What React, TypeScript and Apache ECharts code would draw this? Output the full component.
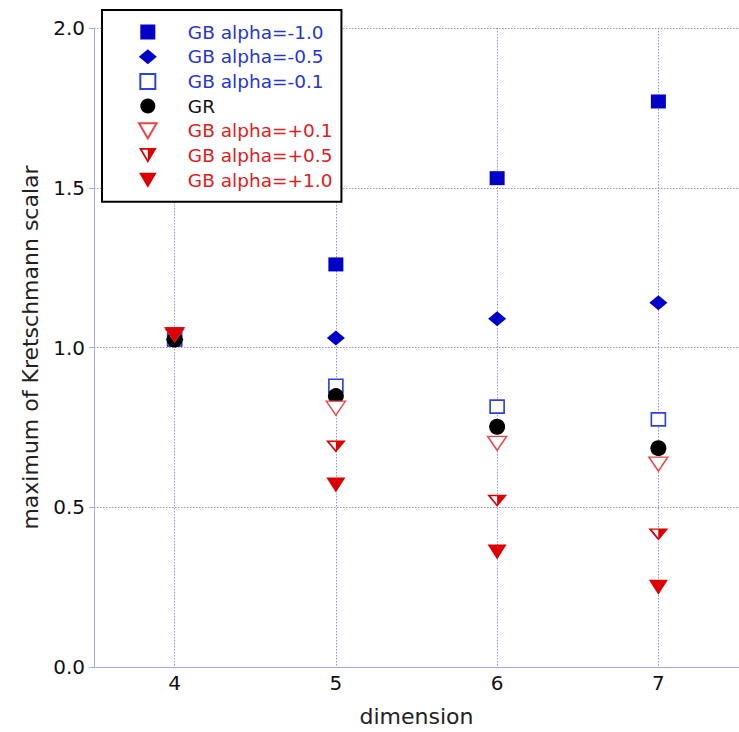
import React, { useEffect, useRef } from "react";
import * as echarts from "echarts";

const dimensions = [4, 5, 6, 7];

const gbMinus10 = [1.025, 1.26, 1.53, 1.77];
const gbMinus05 = [1.025, 1.03, 1.09, 1.14];
const gbMinus01 = [1.025, 0.88, 0.815, 0.775];
const gr = [1.025, 0.848, 0.752, 0.685];
const gbPlus01 = [1.04, 0.81, 0.70, 0.635];
const gbPlus05 = [1.04, 0.69, 0.52, 0.415];
const gbPlus10 = [1.04, 0.57, 0.36, 0.25];

const seriesNames = [
  "GB alpha=-1.0",
  "GB alpha=-0.5",
  "GB alpha=-0.1",
  "GR",
  "GB alpha=+0.1",
  "GB alpha=+0.5",
  "GB alpha=+1.0",
];

const FONT = "DejaVu Sans";
const BLUE = "#0000c8";
const BLUE_LIGHT = "#3040e0";
const BLUE_TEXT = "#2536d6";
const RED = "#dd0000";
const RED_LIGHT = "#ee4444";
const RED_TEXT = "#e02020";
const AXIS = "#a8a8f0";
const GRID = "#8f8ff0";

const SQUARE = "path://M0 0H10V10H0Z";
const DIAMOND = "path://M9 0L18 7.5L9 15L0 7.5Z";
const TRI_DOWN = "path://M0 0H20L10 17Z";
const HALF_TRI = "path://M0 0L20 0L10 17Z M3.5 2L10 13.3L16.5 2Z M10 0L20 0L10 17Z";

function pairs(vals: number[]) {
  return dimensions.map((d, i) => [d, vals[i]]);
}

export default function App() {
  const ref = useRef<HTMLDivElement>(null);
  useEffect(() => {
    if (!ref.current) return;
    const chart = echarts.init(ref.current, undefined, { renderer: "svg" });
    const mk = (
      name: string,
      vals: number[],
      symbol: string,
      size: number | number[],
      itemStyle: any
    ) => ({
      name,
      type: "scatter",
      data: pairs(vals),
      symbol,
      symbolSize: size,
      itemStyle: { opacity: 1, ...itemStyle },
      emphasis: { disabled: true },
    });
    chart.setOption({
      animation: false,
      grid: { left: 94, top: 28, right: -4, bottom: 64 },
      xAxis: {
        type: "value",
        min: 3.5,
        max: 7.5,
        name: "dimension",
        nameLocation: "middle",
        nameGap: 38,
        nameTextStyle: { fontFamily: FONT, fontSize: 22, color: "#222" },
        axisLine: { show: true, onZero: false, lineStyle: { color: AXIS, width: 1 } },
        axisTick: { show: false, customValues: dimensions },
        axisLabel: {
          customValues: dimensions,
          margin: 6,
          fontFamily: FONT,
          fontSize: 20,
          color: "#111",
        },
        splitLine: { show: true, lineStyle: { color: GRID, width: 1, type: [1.5, 1.5] } },
      },
      yAxis: {
        type: "value",
        min: 0,
        max: 2,
        interval: 0.5,
        name: "maximum of Kretschmann scalar",
        nameLocation: "middle",
        nameGap: 53,
        nameTextStyle: { fontFamily: FONT, fontSize: 22, color: "#222" },
        axisLine: { show: true, lineStyle: { color: AXIS, width: 1 } },
        axisTick: { show: true, length: 5, lineStyle: { color: AXIS } },
        axisLabel: {
          margin: 9,
          fontFamily: FONT,
          fontSize: 20,
          color: "#111",
          formatter: (v: number) => v.toFixed(1),
        },
        splitLine: { show: true, lineStyle: { color: GRID, width: 1, type: [1.5, 1.5] } },
      },
      legend: {
        orient: "vertical",
        left: 102,
        top: 10,
        padding: [12.5, 9, 12, 36],
        itemWidth: 70,
        itemHeight: 15,
        itemGap: 5.7,
        backgroundColor: "#fff",
        borderColor: "#000",
        borderWidth: 2,
        borderRadius: 0,
        selectedMode: false,
        symbolKeepAspect: true,
        textStyle: { fontFamily: FONT, fontSize: 18.5, lineHeight: 19 },
        data: seriesNames.map((n, i) => ({
          name: n,
          textStyle: { color: i < 3 ? BLUE_TEXT : i === 3 ? "#111" : RED_TEXT },
        })),
      },
      series: [
        mk(seriesNames[0], gbMinus10, SQUARE, [15, 14], { color: BLUE }),
        mk(seriesNames[1], gbMinus05, DIAMOND, [18, 15], { color: BLUE }),
        mk(seriesNames[2], gbMinus01, SQUARE, [14, 13], {
          color: "#ffffff",
          borderColor: BLUE_LIGHT,
          borderWidth: 1.6,
        }),
        mk(seriesNames[3], gr, "circle", 16, { color: "#000" }),
        mk(seriesNames[4], gbPlus01, TRI_DOWN, [19, 14], {
          color: "#ffffff",
          borderColor: RED_LIGHT,
          borderWidth: 1.4,
        }),
        mk(seriesNames[5], gbPlus05, HALF_TRI, [20, 12], { color: RED }),
        mk(seriesNames[6], gbPlus10, TRI_DOWN, [19, 15], { color: RED }),
      ],
    });
    return () => chart.dispose();
  }, []);
  return (
    <div
      ref={ref}
      style={{ position: "absolute", left: 0, top: 0, width: 739, height: 732 }}
    />
  );
}
